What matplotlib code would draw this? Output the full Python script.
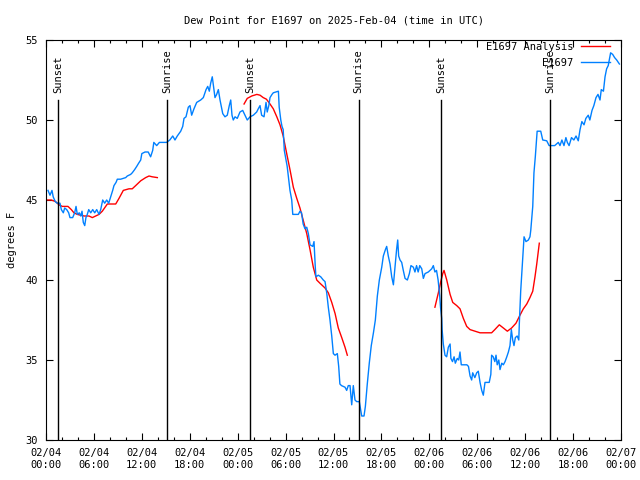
import numpy as np
import matplotlib
matplotlib.use('Agg')
from matplotlib import pyplot as plt
from matplotlib.ticker import MultipleLocator

# hours since 2025-02-04 00:00 UTC
obs_hours = [0.25, 0.5, 0.75, 0.9, 1.16, 1.41, 1.75, 1.92, 2.17, 2.34, 2.59, 2.84, 3.0, 3.34, 3.59, 3.76, 3.92,
             4.17, 4.35, 4.51, 4.67, 4.85, 5.0, 5.17, 5.35, 5.6, 5.85, 6.1, 6.35, 6.64, 6.85, 7.1, 7.35, 7.6,
             7.85, 8.1, 8.35, 8.51, 8.77, 8.93, 9.35, 9.98, 10.18, 10.6, 10.8, 11.1, 11.36, 11.6, 11.86, 12.0,
             12.4, 12.8, 13.1, 13.36, 13.5, 13.86, 14.2, 15.1, 15.5, 15.87, 16.15, 16.44, 16.87, 17.12, 17.28,
             17.53, 17.82, 18.03, 18.24, 18.53, 18.87, 19.37, 19.7, 20.04, 20.25, 20.45, 20.62, 20.82, 20.95,
             21.16, 21.37, 21.58, 21.79, 22.13, 22.41, 22.7, 22.95, 23.13, 23.29, 23.45, 23.67, 23.95, 24.29,
             24.63, 24.92, 25.2, 25.55, 25.96, 26.38, 26.58, 26.8, 27.0, 27.3, 27.55, 27.7, 27.9, 28.05, 28.3,
             28.46, 29.1, 29.2, 29.4, 29.55, 29.7, 29.84, 30.05, 30.2, 30.4, 30.55, 30.77, 30.9, 31.6, 31.8,
             32.0, 32.2, 32.43, 32.65, 32.85, 33.06, 33.4, 33.56, 33.72, 33.8, 34.1, 34.4, 34.72, 34.94, 35.15,
             35.35, 35.56, 35.78, 35.98, 36.19, 36.48, 36.65, 36.8, 37.0, 37.44, 37.65, 37.85, 38.07, 38.28,
             38.48, 38.69, 38.9, 39.23, 39.4, 39.53, 39.82, 39.99, 40.23, 40.48, 40.73, 41.0, 41.24, 41.49,
             41.74, 42.04, 42.24, 42.5, 42.66, 42.86, 43.08, 43.29, 43.5, 43.7, 43.9, 44.04, 44.16, 44.33,
             44.54, 44.74, 44.96, 45.25, 45.5, 45.7, 46.0, 46.2, 46.4, 46.6, 46.8, 47.05, 47.25, 47.46, 47.87,
             48.3, 48.5, 48.7, 48.9, 49.1, 49.3, 49.4, 49.55, 49.6, 49.75, 49.96, 50.17, 50.38, 50.6, 50.7,
             50.9, 51.1, 51.25, 51.5, 51.68, 51.84, 52.0, 52.7, 52.9, 53.1, 53.3, 53.43, 53.7, 53.93, 54.13,
             54.35, 54.56, 54.76, 54.97, 55.5, 55.7, 55.8, 56.0, 56.2, 56.35, 56.5, 56.7, 56.85, 57.07, 57.27,
             57.48, 57.7, 57.9, 58.1, 58.27, 58.44, 58.6, 58.77, 59.0, 59.2, 59.27, 59.44, 59.6, 59.77, 59.86,
             60.1, 60.4, 60.6, 60.7, 60.95, 61.1, 61.27, 61.5, 61.95, 62.2, 62.7, 63.0, 63.7, 64.15, 64.36,
             64.6, 64.86, 65.1, 65.28, 65.5, 65.8, 66.1, 66.37, 66.65, 66.87, 67.1, 67.37, 67.6, 67.9, 68.1,
             68.37, 68.6, 68.87, 69.12, 69.37, 69.53, 69.8, 70.0, 70.2, 70.4, 70.7, 70.96, 71.2, 71.46, 71.8]
obs_dewpt = [45.6, 45.3, 45.6, 45.2, 44.9, 44.8, 44.8, 44.4, 44.2, 44.5, 44.4, 44.2, 43.9, 43.9, 44.2, 44.6, 44.1,
             44.2, 44.0, 44.3, 43.6, 43.4, 43.9, 44.1, 44.4, 44.2, 44.4, 44.2, 44.4, 44.1, 44.4, 45.0, 44.8, 45.0,
             44.8, 45.2, 45.6, 45.9, 46.1, 46.3, 46.3, 46.4, 46.5, 46.6, 46.7, 46.9, 47.1, 47.3, 47.5, 47.9,
             48.0, 48.0, 47.7, 48.1, 48.6, 48.4, 48.6, 48.6, 48.75, 49.0, 48.75, 49.0, 49.3, 49.6, 50.1,
             50.2, 50.8, 50.9, 50.3, 50.7, 51.1, 51.25, 51.4, 51.9, 52.1, 51.8, 52.3, 52.7, 52.2,
             51.4, 51.6, 51.9, 51.25, 50.4, 50.2, 50.3, 50.9, 51.25, 50.3, 50.0, 50.2, 50.1, 50.5,
             50.6, 50.3, 50.0, 50.2, 50.3, 50.5, 50.7, 50.9, 50.3, 50.2, 51.1, 50.5, 50.9, 51.4, 51.6,
             51.7, 51.8, 50.8, 50.0, 49.6, 49.4, 48.1, 47.5, 47.1, 46.25, 45.6, 45.0, 44.1, 44.1, 44.3,
             44.2, 43.5, 43.2, 43.3, 42.9, 42.2, 42.1, 42.4, 40.8, 40.2, 40.3, 40.2, 40.0, 39.9, 39.2,
             38.3, 37.5, 36.5, 35.4, 35.3, 35.4, 34.6, 33.5, 33.4, 33.3, 33.1, 33.4, 33.4, 32.2,
             33.4, 32.5, 32.4, 32.4, 31.9, 31.5, 31.5, 32.1, 33.5, 34.8, 35.9, 36.7, 37.5, 39.0,
             40.0, 40.8, 41.5, 41.9, 42.1, 41.5, 41.0, 40.2, 39.7, 40.8, 41.9, 42.5, 41.5, 41.25,
             41.1, 40.6, 40.1, 40.0, 40.4, 40.9, 40.8, 40.5, 40.9, 40.5, 40.9, 40.7, 40.1, 40.4, 40.5,
             40.7, 40.9, 40.5, 40.6, 40.0, 39.0, 38.3, 37.6, 36.9, 36.0, 35.3, 35.2, 35.8, 36.0, 35.1,
             34.9, 35.2, 34.8, 35.1, 35.0, 35.5, 34.7, 34.7, 34.6, 34.0, 33.75, 34.2, 33.9, 34.2, 34.3,
             33.6, 33.1, 32.8, 33.6, 33.6, 34.1, 35.3, 35.2, 34.9, 35.3, 34.7, 35.0, 34.4, 34.8, 34.7,
             34.9, 35.2, 35.5, 35.9, 36.9, 36.25, 35.9, 36.4, 36.5, 36.25, 37.3, 39.3, 40.6, 41.9, 42.7,
             42.4, 42.5, 42.7, 43.1, 44.6, 46.7, 47.7, 49.3, 49.3, 48.75, 48.7, 48.4, 48.4, 48.6, 48.4,
             48.75, 48.4, 48.9, 48.6, 48.4, 48.9, 48.75, 49.0, 48.7, 49.4, 49.9, 49.7, 50.1, 50.3, 50.0,
             50.6, 50.9, 51.4, 51.6, 51.25, 51.9, 51.8, 52.7, 53.2, 53.4, 54.2, 54.1, 53.9, 53.75, 53.5]

# analysis, three separate runs
ana1_hours = [0.16, 0.66, 1.2, 1.63, 2.04, 2.75, 3.17, 3.5, 3.92, 4.76, 5.38, 5.8, 6.22, 6.64, 7.05, 7.68,
              8.73, 9.14, 9.68, 10.39, 10.8, 11.23, 11.86, 12.48, 12.9, 13.3, 13.94]
ana1_dewpt = [45.0, 45.0, 44.9, 44.7, 44.6, 44.6, 44.4, 44.2, 44.1, 44.0, 44.0, 43.9, 44.0, 44.1, 44.3, 44.75,
              44.75, 45.1, 45.6, 45.7, 45.7, 45.9, 46.2, 46.4, 46.5, 46.45, 46.4]
ana2_hours = [24.8, 25.2, 25.76, 26.4, 26.8, 27.2, 27.6, 28.05, 28.46, 28.9, 29.3, 29.7, 30.14, 30.55, 30.97,
              31.4, 31.8, 32.2, 32.65, 33.06, 33.47, 33.9, 34.3, 34.94, 35.35, 35.78, 36.2, 36.6, 37.03,
              37.44, 37.73]
ana2_dewpt = [51.0, 51.35, 51.5, 51.6, 51.55, 51.4, 51.3, 51.0, 50.7, 50.2, 49.7, 49.0, 47.9, 46.9, 45.8,
              45.1, 44.5, 43.75, 42.9, 41.9, 40.8, 40.0, 39.8, 39.5, 39.2, 38.6, 37.9, 37.0, 36.4,
              35.8, 35.3]
ana3_hours = [48.7, 49.13, 49.43, 49.68, 49.84, 50.18, 50.6, 50.93, 51.43, 51.84, 52.26, 52.68, 53.1, 53.72,
              54.35, 55.8, 56.2, 56.76, 57.27, 57.77, 58.3, 58.85, 59.35, 59.77, 60.2, 60.6, 60.95, 61.23,
              61.45, 61.77]
ana3_dewpt = [38.3, 39.2, 39.9, 40.4, 40.6, 40.0, 39.1, 38.6, 38.4, 38.2, 37.6, 37.1, 36.9, 36.8,
              36.7, 36.7, 36.9, 37.2, 37.0, 36.8, 37.0, 37.3, 37.8, 38.2, 38.5, 38.9, 39.3, 40.2,
              41.0, 42.3]

sun_hours = [1.55, 15.2, 25.57, 39.15, 49.5, 63.15]
sun_labels = ['Sunset', 'Sunrise', 'Sunset', 'Sunrise', 'Sunset', 'Sunrise']

xtick_labels = ['02/04\n00:00', '02/04\n06:00', '02/04\n12:00', '02/04\n18:00',
                '02/05\n00:00', '02/05\n06:00', '02/05\n12:00', '02/05\n18:00',
                '02/06\n00:00', '02/06\n06:00', '02/06\n12:00', '02/06\n18:00', '02/07\n00:00']

plt.rcParams['font.family'] = 'DejaVu Sans Mono'
plt.rcParams['font.size'] = 7.5

red = '#ff0000'
blue = '#0080ff'

fig = plt.figure(figsize=(6.4, 4.8), dpi=100)
ax = fig.add_axes([46 / 640, 40 / 480, 575 / 640, 400 / 480])

ax.plot(ana1_hours, ana1_dewpt, color=red, lw=1.0, label='E1697 Analysis')
ax.plot(ana2_hours, ana2_dewpt, color=red, lw=1.0)
ax.plot(ana3_hours, ana3_dewpt, color=red, lw=1.0)
ax.plot(obs_hours, obs_dewpt, color=blue, lw=1.0, label='E1697')

for h, s in zip(sun_hours, sun_labels):
    ax.plot([h, h], [30, 51.25], color='black', lw=1.0)
    ax.text(h, 51.7, s, rotation=90, ha='center', va='bottom', fontsize=7.5)

ax.set_xlim(0, 72)
ax.set_ylim(30, 55)
ax.set_xticks(np.arange(0, 73, 6))
ax.set_xticklabels(xtick_labels)
ax.xaxis.set_minor_locator(MultipleLocator(2))
ax.set_yticks(np.arange(30, 56, 5))
ax.tick_params(which='both', direction='in', top=True, right=True, width=0.8)
ax.tick_params(which='major', length=5, pad=6)
ax.tick_params(which='minor', length=2.5)
for sp in ax.spines.values():
    sp.set_linewidth(0.8)

ax.set_ylabel('degrees F', labelpad=6)
ax.set_title('Dew Point for E1697 on 2025-Feb-04 (time in UTC)', fontsize=7.5, pad=12)

ax.legend(loc='upper right', bbox_to_anchor=(0.981, 0.995), markerfirst=False, frameon=False,
          handlelength=2.8, borderaxespad=0, borderpad=0, labelspacing=0.55, handletextpad=0.7,
          fontsize=7.5)

plt.savefig('out.png', dpi=100)
